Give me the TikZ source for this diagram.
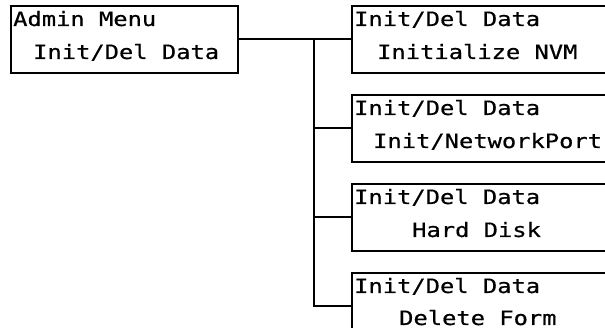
\documentclass[tikz,border=0pt]{standalone}
\usepackage{fontspec}
\usepackage{tikz}
\usetikzlibrary{positioning}
\newfontfamily\lcdfont[FakeStretch=1.2, FakeBold=0.6]{DejaVu Sans Mono}

\begin{document}
\begin{tikzpicture}[
    x=1pt, y=1pt,
    node distance=20pt and 112pt,
    menu/.style={draw, line width=2pt, inner sep=0pt, minimum width=262pt, minimum height=67pt},
    entry/.style={font=\lcdfont\fontsize{19.8}{24}\selectfont, inner sep=0pt, anchor=base west},
    link/.style={line width=2pt}
]
\useasboundingbox (0,0) rectangle (605,-328);

% Left - Admin Menu
\node[menu, minimum width=227pt] (admin) at (124.5,-39.5) {};
\node[entry] (admintop) at ([xshift=3pt, yshift=-21pt]admin.north west) {Admin Menu};
\node[entry] (adminsub) at ([xshift=23pt, yshift=-54pt]admin.north west) {Init/Del Data};

% Right - Init/Del Data items
\node[menu, right=of admin.north east, anchor=north west] (nvm) {};
\node[entry] (nvmtop) at ([xshift=3pt, yshift=-21pt]nvm.north west) {Init/Del Data};
\node[entry] (nvmsub) at ([xshift=26pt, yshift=-54pt]nvm.north west) {Initialize NVM};

\node[menu, below=of nvm] (port) {};
\node[entry] (porttop) at ([xshift=3pt, yshift=-21pt]port.north west) {Init/Del Data};
\node[entry] (portsub) at ([xshift=22pt, yshift=-54pt]port.north west) {Init/NetworkPort};

\node[menu, below=of port] (disk) {};
\node[entry] (disktop) at ([xshift=3pt, yshift=-21pt]disk.north west) {Init/Del Data};
\node[entry] (disksub) at ([xshift=61pt, yshift=-54pt]disk.north west) {Hard Disk};

\node[menu, below=of disk] (form) {};
\node[entry] (formtop) at ([xshift=3pt, yshift=-21pt]form.north west) {Init/Del Data};
\node[entry] (formsub) at ([xshift=48pt, yshift=-53pt]form.north west) {Delete Form};

% Tree lines
\coordinate (split) at ([xshift=75pt]admin.east);
\draw[link] (admin.east) -- (nvm.west);
\draw[link] (split) |- (form.west);
\draw[link] (split |- port.west) -- (port.west);
\draw[link] (split |- disk.west) -- (disk.west);

\end{tikzpicture}
\end{document}
